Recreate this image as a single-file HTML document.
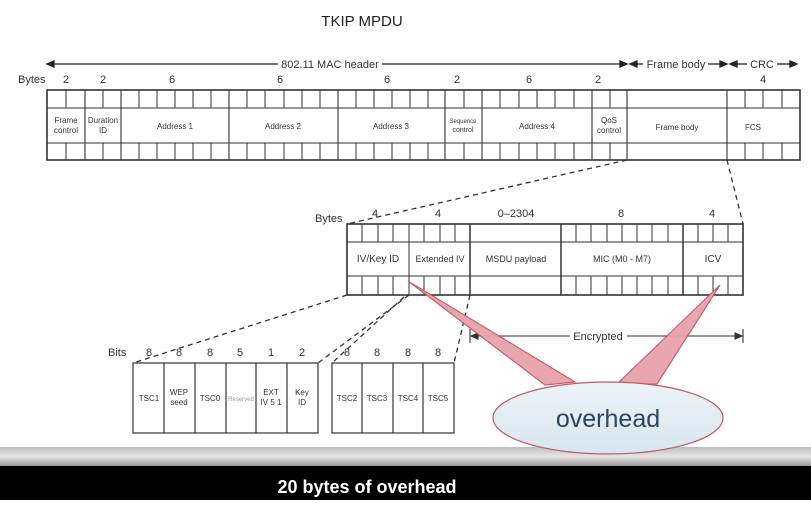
<!DOCTYPE html>
<html><head><meta charset="utf-8"><style>
body{margin:0;width:811px;height:500px;overflow:hidden;background:#fff;font-family:"Liberation Sans",sans-serif}
</style></head><body>
<svg width="811" height="500" viewBox="0 0 811 500" xmlns="http://www.w3.org/2000/svg" font-family="Liberation Sans, sans-serif">
<defs>
<linearGradient id="el" x1="0" y1="0" x2="0" y2="1"><stop offset="0" stop-color="#eef3f7"/><stop offset="1" stop-color="#d6e6ef"/></linearGradient>
<linearGradient id="band" x1="0" y1="0" x2="0" y2="1"><stop offset="0" stop-color="#bdbdbd"/><stop offset="0.5" stop-color="#e6e6e6"/><stop offset="1" stop-color="#9a9a9a"/></linearGradient>
</defs>
<text x="362" y="26" font-size="15" text-anchor="middle" fill="#222">TKIP MPDU</text>
<!-- header arrows -->
<g stroke="#222" stroke-width="1.3" fill="#222">
<line x1="50" y1="64" x2="278" y2="64"/><polygon points="47,64 54,61 54,67"/>
<line x1="382" y1="64" x2="622" y2="64"/><polygon points="627,64 620,61 620,67"/>
<polygon points="630,64 637,61 637,67"/><line x1="637" y1="64" x2="643" y2="64"/>
<line x1="708" y1="64" x2="722" y2="64"/><polygon points="727,64 720,61 720,67"/>
<polygon points="730,64 737,61 737,67"/><line x1="737" y1="64" x2="747" y2="64"/>
<line x1="777" y1="64" x2="792" y2="64"/><polygon points="797,64 790,61 790,67"/>
</g>
<g font-size="11" fill="#333">
<text x="330" y="68" text-anchor="middle">802.11 MAC header</text>
<text x="676" y="68" text-anchor="middle">Frame body</text>
<text x="762" y="68" text-anchor="middle">CRC</text>
<text x="18" y="83">Bytes</text>
<g text-anchor="middle"><text x="66" y="83">2</text><text x="103" y="83">2</text><text x="172" y="83">6</text><text x="280" y="83">6</text><text x="387" y="83">6</text><text x="457" y="83">2</text><text x="529" y="83">6</text><text x="598" y="83">2</text><text x="763" y="83">4</text></g>
</g>
<!-- top frame -->
<g stroke="#333" fill="none">
<rect x="47" y="90" width="753" height="70" stroke-width="1.6"/>
<line x1="47" y1="108" x2="800" y2="108"/><line x1="47" y1="143" x2="800" y2="143"/>
<g stroke-width="1.1">
<line x1="85" y1="90" x2="85" y2="160"/><line x1="121" y1="90" x2="121" y2="160"/><line x1="229" y1="90" x2="229" y2="160"/><line x1="338" y1="90" x2="338" y2="160"/><line x1="445" y1="90" x2="445" y2="160"/><line x1="482" y1="90" x2="482" y2="160"/><line x1="592" y1="90" x2="592" y2="160"/><line x1="627" y1="90" x2="627" y2="160"/><line x1="727" y1="90" x2="727" y2="160"/>
</g>
<path id="ticks" stroke-width="1" d="
M66,90v18M66,143v17 M103,90v18M103,143v17
M139,90v18M139,143v17 M157,90v18M157,143v17 M175,90v18M175,143v17 M193,90v18M193,143v17 M211,90v18M211,143v17
M247,90v18M247,143v17 M265,90v18M265,143v17 M284,90v18M284,143v17 M302,90v18M302,143v17 M320,90v18M320,143v17
M356,90v18M356,143v17 M374,90v18M374,143v17 M392,90v18M392,143v17 M410,90v18M410,143v17 M428,90v18M428,143v17
M464,90v18M464,143v17
M500,90v18M500,143v17 M519,90v18M519,143v17 M537,90v18M537,143v17 M555,90v18M555,143v17 M574,90v18M574,143v17
M610,90v18M610,143v17
M745,90v18M745,143v17 M763,90v18M763,143v17 M782,90v18M782,143v17"/>
</g>
<g font-size="8" fill="#333" text-anchor="middle">
<text x="66" y="123">Frame</text><text x="66" y="133">control</text>
<text x="103" y="123">Duration</text><text x="103" y="133">ID</text>
<text x="175" y="129">Address 1</text><text x="283" y="129">Address 2</text><text x="391" y="129">Address 3</text>
<text x="463" y="123" font-size="6">Sequence</text><text x="463" y="132" font-size="7">control</text>
<text x="537" y="129">Address 4</text>
<text x="609" y="123">QoS</text><text x="609" y="133">control</text>
<text x="677" y="130">Frame body</text><text x="753" y="130">FCS</text>
</g>
<!-- dashed connectors -->
<g stroke="#333" stroke-width="1.3" stroke-dasharray="5,4" fill="none">
<line x1="627" y1="160" x2="347" y2="224"/>
<line x1="727" y1="160" x2="743" y2="224"/>
<line x1="347" y1="295" x2="133" y2="363"/>
<line x1="409" y1="295" x2="318" y2="363"/>
<line x1="404" y1="297" x2="332" y2="363"/>
<line x1="470" y1="295" x2="454" y2="363"/>
</g>
<!-- middle frame -->
<g font-size="11" fill="#333"><text x="315" y="222">Bytes</text>
<g text-anchor="middle"><text x="375" y="217">4</text><text x="438" y="217">4</text><text x="516" y="217">0–2304</text><text x="621" y="217">8</text><text x="712" y="217">4</text></g></g>
<g stroke="#333" fill="none">
<rect x="347" y="224" width="396" height="71" stroke-width="1.6"/>
<line x1="347" y1="242" x2="743" y2="242"/><line x1="347" y1="276" x2="743" y2="276"/>
<line x1="409" y1="224" x2="409" y2="295"/><line x1="470" y1="224" x2="470" y2="295" stroke-width="1.5"/><line x1="561" y1="224" x2="561" y2="295" stroke-width="1.5"/><line x1="683" y1="224" x2="683" y2="295" stroke-width="1.5"/>
<path d="M362,224v18M362,276v19 M378,224v18M378,276v19 M393,224v18M393,276v19
M424,224v18M424,276v19 M440,224v18M440,276v19 M455,224v18M455,276v19
M576,224v18M576,276v19 M591,224v18M591,276v19 M607,224v18M607,276v19 M622,224v18M622,276v19 M637,224v18M637,276v19 M652,224v18M652,276v19 M668,224v18M668,276v19
M698,224v18M698,276v19 M713,224v18M713,276v19 M728,224v18M728,276v19"/>
</g>
<g font-size="10" fill="#333" text-anchor="middle">
<text x="378" y="262">IV/Key ID</text><text x="440" y="262" font-size="9">Extended IV</text><text x="516" y="262" font-size="9">MSDU payload</text><text x="622" y="262" font-size="9">MIC (M0 - M7)</text><text x="713" y="262">ICV</text>
</g>
<!-- encrypted -->
<g stroke="#333" stroke-width="1.1" fill="#333">
<line x1="470" y1="329" x2="470" y2="343"/><line x1="743" y1="329" x2="743" y2="343"/>
<line x1="472" y1="336" x2="570" y2="336"/><polygon points="471,336 478,333 478,339"/>
<line x1="627" y1="336" x2="741" y2="336"/><polygon points="742,336 735,333 735,339"/>
</g>
<text x="598" y="340" font-size="11" fill="#333" text-anchor="middle">Encrypted</text>
<!-- bottom boxes -->
<g font-size="11" fill="#333"><text x="108" y="356">Bits</text>
<g text-anchor="middle"><text x="149" y="356">8</text><text x="179" y="356">8</text><text x="210" y="356">8</text><text x="240" y="356">5</text><text x="271" y="356">1</text><text x="302" y="356">2</text><text x="347" y="356">8</text><text x="377" y="356">8</text><text x="408" y="356">8</text><text x="438" y="356">8</text></g></g>
<g stroke="#333" fill="none" stroke-width="1.2">
<rect x="133" y="363" width="185" height="70"/>
<path d="M164,363v70M195,363v70M226,363v70M256,363v70M287,363v70"/>
<rect x="332" y="363" width="122" height="70"/>
<path d="M362,363v70M393,363v70M423,363v70"/>
</g>
<g font-size="8" fill="#333" text-anchor="middle">
<text x="149" y="401">TSC1</text><text x="179" y="395">WEP</text><text x="179" y="405">seed</text><text x="210" y="401">TSC0</text>
<text x="241" y="401" font-size="6" fill="#999">Reserved</text>
<text x="271" y="395">EXT</text><text x="271" y="405">IV 5 1</text><text x="302" y="395">Key</text><text x="302" y="405">ID</text>
<text x="347" y="401">TSC2</text><text x="377" y="401">TSC3</text><text x="408" y="401">TSC4</text><text x="438" y="401">TSC5</text>
</g>
<!-- gray band and black bar -->
<rect x="0" y="447" width="811" height="19" fill="url(#band)"/>
<rect x="0" y="466" width="811" height="34" fill="#000"/>
<text x="367" y="493" font-size="18" font-weight="bold" fill="#fff" text-anchor="middle">20 bytes of overhead</text>
<!-- callout -->
<g fill="#e7a3ab" stroke="#c05a64" stroke-width="1.2" opacity="0.95">
<polygon points="408,281 545,385 575,382"/>
<polygon points="720,285 617,384 657,384"/>
</g>
<ellipse cx="608" cy="418" rx="115" ry="36" fill="url(#el)" stroke="#c05a64" stroke-width="1.2"/>
<text x="608" y="427" font-size="25" fill="#2c4560" text-anchor="middle">overhead</text>
</svg>
</body></html>
